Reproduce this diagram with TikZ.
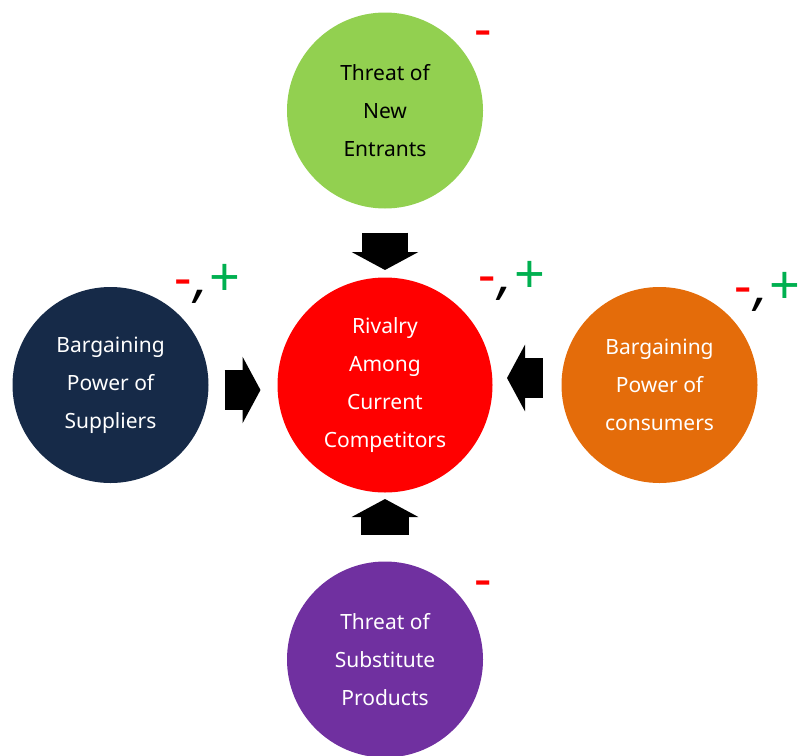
\documentclass[tikz,border=0pt]{standalone}
\usepackage{fontspec}
\setmainfont{Noto Sans}
\usepackage{xcolor}
\usetikzlibrary{arrows.meta,positioning}

\definecolor{entrantgreen}{RGB}{146,208,80}
\definecolor{rivalred}{RGB}{255,0,0}
\definecolor{suppliernavy}{RGB}{22,42,72}
\definecolor{consumerorange}{RGB}{228,108,10}
\definecolor{substitutepurple}{RGB}{112,48,160}
\definecolor{minusred}{RGB}{255,0,0}
\definecolor{plusgreen}{RGB}{0,176,80}

% effect signs next to each force
\newcommand{\signminus}{\textcolor{minusred}{-}}
\newcommand{\signpair}{\textcolor{minusred}{-}\kern2pt\textit{,}\kern2pt\textcolor{plusgreen}{+}}

\begin{document}
\begin{tikzpicture}[
  x=1pt, y=-1pt,
  force/.style={circle, minimum size=196pt, inner sep=0pt, outer sep=0pt,
    align=center, text=white, font=\fontsize{21}{38}\selectfont},
  rival/.style={force, minimum size=215pt},
  push/.style={line width=44pt, draw=black, -{Triangle[length=18pt, width=66pt]}},
  sign/.style={inner sep=0pt, font=\fontsize{54}{54}\selectfont\bfseries},
  node distance=69pt,
]
  \useasboundingbox (0,0) rectangle (800,755);

  \node[rival, fill=rivalred] (riv) at (385,385) {Rivalry\\Among\\Current\\Competitors};
  \node[force, fill=entrantgreen, text=black, above=of riv] (ent) {Threat of\\New\\Entrants};
  \node[force, fill=suppliernavy, left=of riv]  (sup) {Bargaining\\Power of\\Suppliers};
  \node[force, fill=consumerorange, right=of riv] (con) {Bargaining\\Power of\\consumers};
  \node[force, fill=substitutepurple, below=of riv] (sub) {Threat of\\Substitute\\Products};

  % block arrows into the rivalry circle
  \draw[push, line width=46pt, shorten <=24pt, shorten >=7.5pt] (ent) -- (riv);
  \draw[push, line width=40pt, shorten <=16pt, shorten >=17pt] ([yshift=-5pt]sup.east) -- ([yshift=-5pt]riv.west);
  \draw[push, line width=40pt, shorten <=19pt, shorten >=14.5pt] ([yshift=7pt]con.west) -- ([yshift=7pt]riv.east);
  \draw[push, line width=48pt, shorten <=27pt, shorten >=6.5pt] (sub) -- (riv);

  \node[sign] (entsign) at ([xshift=29pt, yshift=2pt]ent.north east) {\signminus};
  \node[sign] (supsign) at ([xshift=28pt, yshift=32pt]sup.north east) {\signpair};
  \node[sign] (rivsign) at ([xshift=51pt, yshift=28pt]riv.north east) {\signpair};
  \node[sign] (consign) at ([xshift=39pt, yshift=24pt]con.north east) {\signpair};
  \node[sign] (subsign) at ([xshift=29pt, yshift=1pt]sub.north east) {\signminus};
\end{tikzpicture}
\end{document}
